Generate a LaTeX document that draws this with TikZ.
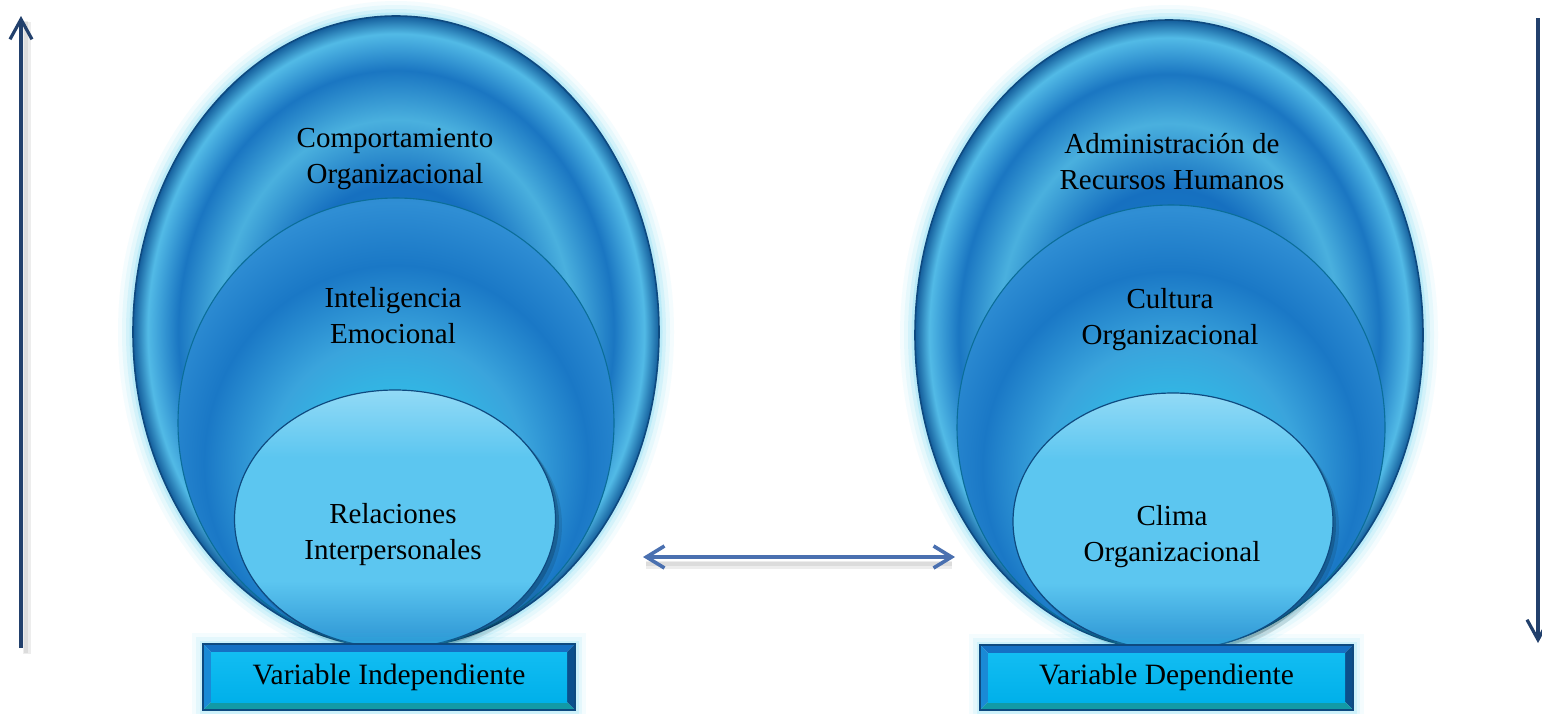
\documentclass[tikz,border=0pt]{standalone}
\usepackage{fontspec}
\setmainfont{Liberation Serif}
\usetikzlibrary{arrows.meta,shapes.geometric}

\definecolor{navyln}{HTML}{22406C}
\definecolor{arrowblue}{HTML}{4A70B0}
\definecolor{edgedark}{HTML}{0E4A80}
\definecolor{glowc}{HTML}{2FC6EE}
% outer ring colours
\definecolor{oA}{HTML}{1C86CE}
\definecolor{oB}{HTML}{1670C0}
\definecolor{oC}{HTML}{4AB0DE}
\definecolor{oD}{HTML}{1A76C2}
\definecolor{oE}{HTML}{52BAE6}
\definecolor{oF}{HTML}{145E9C}
% middle colours
\definecolor{mA}{HTML}{22E0E6}
\definecolor{mB}{HTML}{2CC4EA}
\definecolor{mC}{HTML}{3AA4DC}
\definecolor{mD}{HTML}{1A78C6}
\definecolor{mE}{HTML}{2F8ED4}
\definecolor{mF}{HTML}{2B7EC2}
% inner colours
\definecolor{iTop}{HTML}{92DAF6}
\definecolor{iMid}{HTML}{5CC6F0}
\definecolor{iBot}{HTML}{2A92D2}
% box colours
\definecolor{bxTop}{HTML}{1570C4}
\definecolor{bxLeft}{HTML}{1A8AD6}
\definecolor{bxRight}{HTML}{0B4F8C}
\definecolor{bxBot}{HTML}{129AA6}
\definecolor{bxIn}{HTML}{12BDF2}
\definecolor{bxInB}{HTML}{00B0EA}

\pgfdeclareradialshading{outerring}{\pgfpoint{0bp}{0bp}}{%
 color(0bp)=(oA); color(11.6bp)=(oB); color(16.8bp)=(oC); color(20.7bp)=(oD);
 color(23.6bp)=(oE); color(25bp)=(oF); color(50bp)=(oF)}
\pgfdeclareradialshading{middlering}{\pgfpoint{0bp}{-8bp}}{%
 color(0bp)=(mA); color(6bp)=(mB); color(15bp)=(mC); color(22bp)=(mD);
 color(28bp)=(mE); color(33bp)=(mF); color(50bp)=(mF)}
\pgfdeclareverticalshading{innerfill}{100bp}{%
 color(0bp)=(iBot); color(25bp)=(iBot); color(38bp)=(iMid); color(62bp)=(iMid); color(75bp)=(iTop); color(100bp)=(iTop)}

\tikzset{
  ellbase/.style={ellipse, inner sep=0pt, outer sep=0pt},
  outerell/.style={ellbase, shade, shading=outerring, draw=edgedark, line width=1.6pt},
  middleell/.style={ellbase, shade, shading=middlering, draw=edgedark!80!cyan, line width=1.1pt},
  innerell/.style={ellbase, shade, shading=innerfill, draw=edgedark, line width=1.2pt},
  lbl/.style={align=center, font=\fontsize{29}{36}\selectfont, text=black},
  boxlbl/.style={font=\fontsize{29.5}{34}\selectfont, text=black},
  axisarrow/.style={draw=navyln, line width=3.2pt, -{Straight Barb[length=20pt,width=22pt,line width=3.2pt]}},
  linkarrow/.style={draw=arrowblue, line width=3.6pt, {Straight Barb[length=18pt,width=22pt,line width=3.6pt]}-{Straight Barb[length=18pt,width=22pt,line width=3.6pt]}},
  shadowline/.style={draw=black, line width=#1, draw opacity=0.07},
}

\newcommand{\glowell}[3]{% center, x radius, y radius
  \foreach \w/\o in {30/0.05,22/0.07,14/0.10,7/0.14}{
    \draw[glowc, line width=\w pt, draw opacity=\o] #1 ellipse [x radius=#2, y radius=#3];
  }}

\newcommand{\bevelbox}[5]{% name, x0, y0, x1, y1
  \foreach \w/\o in {22/0.05,14/0.08,7/0.12}{
    \draw[glowc, line width=\w pt, draw opacity=\o] (#2,#3) rectangle (#4,#5);}
  \fill[bxTop] (#2,#3) -- (#4,#3) -- (#4-8,#3+8) -- (#2+8,#3+8) -- cycle;
  \fill[bxLeft] (#2,#3) -- (#2+8,#3+8) -- (#2+8,#5-8) -- (#2,#5) -- cycle;
  \fill[bxRight] (#4,#3) -- (#4,#5) -- (#4-8,#5-8) -- (#4-8,#3+8) -- cycle;
  \fill[bxBot] (#2,#5) -- (#2+8,#5-8) -- (#4-8,#5-8) -- (#4,#5) -- cycle;
  \shade[top color=bxIn, bottom color=bxInB] (#2+8,#3+8) rectangle (#4-8,#5-8);
  \draw[edgedark, line width=1.2pt] (#2,#3) rectangle (#4,#5);
  \node[inner sep=0pt, minimum width=#4-#2, minimum height=#5-#3] (#1) at ({(#2+#4)/2},{(#3+#5)/2}) {};
}

\begin{document}
\begin{tikzpicture}[x=1pt,y=-1pt]
\useasboundingbox (0,0) rectangle (1542,713);
\fill[white] (0,0) rectangle (1542,713);

% ---------- left stack ----------
\glowell{(396,332)}{263}{316}
\node[outerell, minimum width=526pt, minimum height=632pt] (lOuter) at (396,332) {};
\node[middleell, minimum width=436pt, minimum height=450pt] (lMiddle) at (396,423) {};
\fill[black, opacity=0.10] (400,525) ellipse [x radius=162, y radius=129];
\fill[black, opacity=0.18] (398,522) ellipse [x radius=161, y radius=129];
\node[innerell, minimum width=321pt, minimum height=258pt] (lInner) at (395,519) {};

% ---------- right stack ----------
\glowell{(1169,335)}{254}{315}
\node[outerell, minimum width=508pt, minimum height=630pt] (rOuter) at (1169,335) {};
\node[middleell, minimum width=428pt, minimum height=445pt] (rMiddle) at (1171,427.5) {};
\fill[black, opacity=0.10] (1178,527.5) ellipse [x radius=161, y radius=128.5];
\fill[black, opacity=0.18] (1176,524.5) ellipse [x radius=160, y radius=128.5];
\node[innerell, minimum width=320pt, minimum height=257pt] (rInner) at (1173,521.5) {};

% ---------- labels ----------
\node[lbl] (tCO) at (395,159) {Comportamiento\\Organizacional};
\node[lbl] (tIE) at (393,316) {Inteligencia\\Emocional};
\node[lbl] (tRI) at (393,535) {Relaciones\\Interpersonales};
\node[lbl] (tAR) at (1172,162) {Administración de\\Recursos Humanos};
\node[lbl] (tCU) at (1170,320) {Cultura\\Organizacional};
\node[lbl] (tCL) at (1172,537) {Clima\\Organizacional};

% ---------- boxes ----------
\bevelbox{boxL}{203}{644}{575}{710}
\node[boxlbl] (tVI) at (boxL) {Variable Independiente};
\bevelbox{boxR}{980}{645}{1353}{710}
\node[boxlbl] (tVD) at (boxR) {Variable Dependiente};

% ---------- arrows ----------
\coordinate (upBot) at (21,648);
\coordinate (upTop) at (21,16);
\coordinate (dnTop) at (1538,18);
\coordinate (dnBot) at (1538,643);
\coordinate (lkL) at (643,557);
\coordinate (lkR) at (955,557);

\draw[shadowline=8pt] ([shift={(6,6)}]upBot) -- ([shift={(6,6)}]upTop);
\draw[shadowline=4pt] ([shift={(5,5)}]upBot) -- ([shift={(5,5)}]upTop);
\draw[shadowline=8pt] ([shift={(3,8)}]lkL) -- ([shift={(-3,8)}]lkR);
\draw[shadowline=4pt] ([shift={(3,7)}]lkL) -- ([shift={(-3,7)}]lkR);

\draw[axisarrow] (upBot) -- (upTop);
\draw[axisarrow] (dnTop) -- (dnBot);
\draw[linkarrow] (lkL) -- (lkR);
\end{tikzpicture}
\end{document}
